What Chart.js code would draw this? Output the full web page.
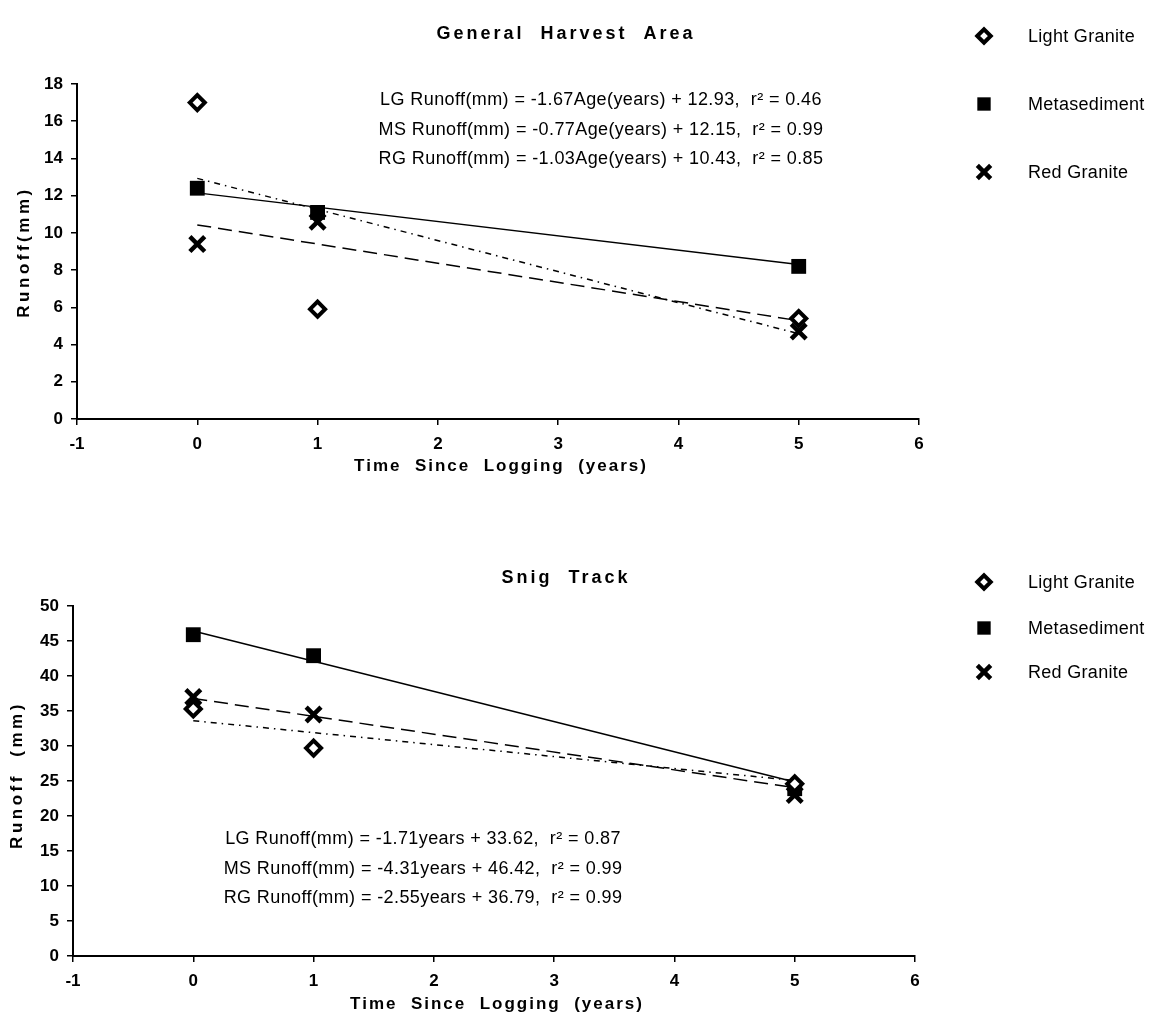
<!DOCTYPE html>
<html>
<head>
<meta charset="utf-8">
<script src="https://cdn.jsdelivr.net/npm/chart.js@4.4.0/dist/chart.umd.min.js"></script>
<style>
  body { margin: 0; background: #fff; }
  .panel { position: absolute; left: 0; width: 1161px; }
</style>
</head>
<body>
<div class="panel" style="top:0;height:500px"><canvas id="harvest" width="1161" height="500"></canvas></div>
<div class="panel" style="top:500px;height:523px"><canvas id="snig" width="1161" height="523"></canvas></div>
<script>
// sampling ages (years since logging)
const years = [0, 1, 5];
const rockNames = ['Light Granite', 'Metasediment', 'Red Granite'];
const rockCodes = ['LG', 'MS', 'RG'];
const xTicks = [-1, 0, 1, 2, 3, 4, 5, 6];

// General Harvest Area runoff (mm)
const harvestLG = [17.0, 5.9, 5.4];
const harvestMS = [12.4, 11.1, 8.2];
const harvestRG = [9.4, 10.6, 4.7];
const harvestSlope = [-1.67, -0.77, -1.03];
const harvestIntercept = [12.93, 12.15, 10.43];
const harvestR2 = ['0.46', '0.99', '0.85'];
const harvestYTicks = [0, 2, 4, 6, 8, 10, 12, 14, 16, 18];

// Snig Track runoff (mm)
const snigLG = [35.3, 29.7, 24.6];
const snigMS = [45.9, 42.9, 23.9];
const snigRG = [37.0, 34.5, 23.0];
const snigSlope = [-1.71, -4.31, -2.55];
const snigIntercept = [33.62, 46.42, 36.79];
const snigR2 = ['0.87', '0.99', '0.99'];
const snigYTicks = [0, 5, 10, 15, 20, 25, 30, 35, 40, 45, 50];

const FONT = '"Liberation Sans", Arial, sans-serif';

// marker look for each rock type
const markers = [
  { pointStyle: 'rectRot', radius: 7.5, borderWidth: 4, fill: '#fff' },
  { pointStyle: 'rect', radius: 10.5, borderWidth: 0, fill: '#000' },
  { pointStyle: 'crossRot', radius: 10.5, borderWidth: 4.5, fill: '#000' }
];
const trendDash = [[6, 5, 1.5, 5], [], [14, 7]];

function makeDatasets(values, slope, intercept) {
  const sets = [];
  values.forEach((vals, i) => {
    const m = markers[i];
    sets.push({
      label: rockNames[i],
      data: years.map((x, k) => ({ x: x, y: vals[k] })),
      pointStyle: m.pointStyle,
      pointRadius: m.radius,
      pointBorderWidth: m.borderWidth,
      pointBackgroundColor: m.fill,
      pointBorderColor: '#000',
      showLine: false,
      order: 0
    });
  });
  // fitted lines from the regression equations
  slope.forEach((s, i) => {
    const x0 = years[0], x1 = years[years.length - 1];
    sets.push({
      label: rockCodes[i] + ' fit',
      data: [{ x: x0, y: intercept[i] + s * x0 }, { x: x1, y: intercept[i] + s * x1 }],
      showLine: true,
      borderColor: '#000',
      borderWidth: 1.5,
      borderDash: trendDash[i],
      pointRadius: 0,
      order: 1
    });
  });
  return sets;
}

function equationText(i, slope, intercept, r2, xName) {
  return rockCodes[i] + ' Runoff(mm) = ' + slope[i].toFixed(2) + xName + ' + ' +
    intercept[i].toFixed(2) + ',  r\u00B2 = ' + r2[i];
}

// draws title, axis titles, equations and the legend on top of the chart
const decorations = {
  id: 'decorations',
  afterDraw(chart, args, opts) {
    const ctx = chart.ctx;
    ctx.save();
    ctx.fillStyle = '#000';
    ctx.textBaseline = 'middle';

    ctx.font = 'bold 18px ' + FONT;
    ctx.letterSpacing = '3px';
    ctx.textAlign = 'center';
    ctx.fillText(opts.title, opts.titleX, opts.titleY);

    ctx.font = 'bold 17px ' + FONT;
    ctx.letterSpacing = '2px';
    ctx.fillText(opts.xTitle, opts.xTitleX, opts.xTitleY);

    ctx.save();
    ctx.translate(opts.yTitleX, opts.yTitleY);
    ctx.rotate(-Math.PI / 2);
    ctx.letterSpacing = '3.5px';
    ctx.fillText(opts.yTitle, 0, 0);
    ctx.restore();

    ctx.font = '18px ' + FONT;
    ctx.letterSpacing = '0.4px';
    opts.equations.forEach((t, i) => {
      ctx.fillText(t, opts.eqX, opts.eqY[i]);
    });

    // legend
    ctx.textAlign = 'left';
    ctx.font = '18px ' + FONT;
    ctx.letterSpacing = '0.3px';
    rockNames.forEach((name, i) => {
      const m = markers[i];
      const y = opts.legendY[i];
      ctx.fillStyle = m.fill;
      ctx.strokeStyle = '#000';
      ctx.lineWidth = m.borderWidth;
      Chart.helpers.drawPoint(ctx, { pointStyle: m.pointStyle, radius: m.radius * 0.9, borderWidth: m.borderWidth, rotation: 0 }, opts.legendX, y);
      ctx.fillStyle = '#000';
      ctx.fillText(name, opts.legendTextX, y + 1);
    });
    ctx.restore();
  }
};

function makeChart(id, cfg) {
  return new Chart(document.getElementById(id), {
    type: 'scatter',
    data: { datasets: makeDatasets(cfg.values, cfg.slope, cfg.intercept) },
    plugins: [decorations],
    options: {
      responsive: false,
      animation: false,
      layout: { padding: cfg.padding },
      plugins: {
        legend: { display: false },
        tooltip: { enabled: false },
        decorations: cfg.deco
      },
      scales: {
        x: {
          type: 'linear',
          min: -1, max: 6,
          afterFit: s => { s.height = cfg.xHeight; },
          afterBuildTicks: s => { s.ticks = xTicks.map(v => ({ value: v })); },
          border: { color: '#000', width: 2 },
          grid: { drawOnChartArea: false, color: '#000', lineWidth: 1.5, tickLength: 6 },
          ticks: { color: '#000', padding: 9, maxRotation: 0, font: { family: FONT, size: 17, weight: 'bold' } }
        },
        y: {
          min: 0, max: cfg.yTicks[cfg.yTicks.length - 1],
          afterFit: s => { s.width = cfg.yWidth; },
          afterBuildTicks: s => { s.ticks = cfg.yTicks.map(v => ({ value: v })); },
          border: { color: '#000', width: 2 },
          grid: { drawOnChartArea: false, color: '#000', lineWidth: 1.5, tickLength: 6 },
          ticks: { color: '#000', padding: 8, font: { family: FONT, size: 17, weight: 'bold' } }
        }
      }
    }
  });
}

makeChart('harvest', {
  values: [harvestLG, harvestMS, harvestRG],
  slope: harvestSlope, intercept: harvestIntercept,
  yTicks: harvestYTicks,
  padding: { top: 84, right: 242, left: 0, bottom: 0 },
  yWidth: 77, xHeight: 81,
  deco: {
    title: 'General  Harvest  Area', titleX: 566, titleY: 34,
    xTitle: 'Time  Since  Logging  (years)', xTitleX: 501, xTitleY: 466,
    yTitle: 'Runoff(mm)', yTitleX: 24, yTitleY: 252,
    equations: [0, 1, 2].map(i => equationText(i, harvestSlope, harvestIntercept, harvestR2, 'Age(years)')),
    eqX: 601, eqY: [100, 130, 159],
    legendX: 984, legendTextX: 1028, legendY: [36, 104, 172]
  }
});

makeChart('snig', {
  values: [snigLG, snigMS, snigRG],
  slope: snigSlope, intercept: snigIntercept,
  yTicks: snigYTicks,
  padding: { top: 106, right: 246, left: 0, bottom: 0 },
  yWidth: 73, xHeight: 67,
  deco: {
    title: 'Snig  Track', titleX: 566, titleY: 78,
    xTitle: 'Time  Since  Logging  (years)', xTitleX: 497, xTitleY: 504,
    yTitle: 'Runoff  (mm)', yTitleX: 17, yTitleY: 275,
    equations: [0, 1, 2].map(i => equationText(i, snigSlope, snigIntercept, snigR2, 'years')),
    eqX: 423, eqY: [339, 369, 398],
    legendX: 984, legendTextX: 1028, legendY: [82, 128, 172]
  }
});
</script>
</body>
</html>
